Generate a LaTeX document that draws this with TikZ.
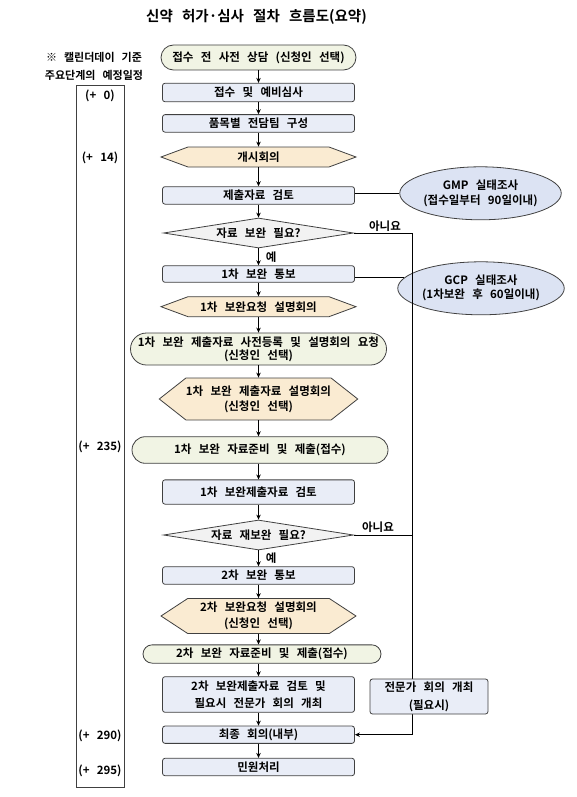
\documentclass[tikz,border=0pt]{standalone}
\usepackage{fontspec}
\setmainfont{Noto Sans CJK KR}[BoldFont={Noto Sans CJK KR Bold}, WordSpace=2.8]
\usepackage{tikz}
\usetikzlibrary{shapes.geometric,shapes.misc,shapes.symbols,arrows.meta,calc}

\definecolor{boxblue}{HTML}{E9EDF7}
\definecolor{pillgreen}{HTML}{F1F4E4}
\definecolor{hexsand}{HTML}{FAEBD2}
\definecolor{askgray}{HTML}{F2F2F2}
\definecolor{ovalblue}{HTML}{DCE3F3}
\definecolor{edgegray}{HTML}{404040}

\begin{document}
\begin{tikzpicture}[x=1pt, y=-1pt,
    every node/.style={font=\fontsize{11.5}{15}\selectfont\bfseries, inner sep=0pt, align=center},
    stepbox/.style={rectangle, rounded corners=2.5pt, draw=edgegray, line width=0.8pt, fill=boxblue, minimum width=192pt},
    pill/.style={rounded rectangle, draw=edgegray, line width=0.8pt, fill=pillgreen},
    meeting/.style={signal, signal to=east and west, draw=edgegray, line width=0.8pt, fill=hexsand, minimum width=195pt},
    ask/.style={diamond, aspect=6.3, draw=edgegray, line width=0.8pt, fill=askgray, minimum width=190pt, minimum height=30pt},
    audit/.style={ellipse, draw=edgegray, line width=0.8pt, fill=ovalblue, minimum width=128pt, minimum height=53pt},
    flow/.style={-{Stealth[length=5pt, width=4.5pt]}, line width=0.9pt},
    tie/.style={line width=0.8pt}
  ]
    \useasboundingbox (0,0) rectangle (576,797);
    % title and the note on the left
    \node[font=\fontsize{14.5}{16}\selectfont\bfseries] (title) at (256.5,16.5) {신약 허가·심사 절차 흐름도(요약)};
    \node[font=\fontsize{11}{18.7}\selectfont\bfseries] (note) at (94,66.3) {※ 캘린더데이 기준\\주요단계의 예정일정};
    % calendar-day column
    \node[draw=edgegray, line width=0.8pt, minimum width=48.3pt, minimum height=702pt] (days) at (100.2,436.7) {};
    \foreach \y/\d in {96/0, 158/14, 447/235, 736/290, 771/295} {
      \node (d\d) at (100,\y) {(+ \d)};
    }
    % main column
    \node[pill, minimum width=195pt, minimum height=25pt] (consult) at (258.5,57.5) {접수 전 사전 상담 (신청인 선택)};
    \node[stepbox, minimum height=18.5pt] (intake) at (258.5,92.5) {접수 및 예비심사};
    \node[stepbox, minimum height=17.5pt] (team) at (258.5,123.4) {품목별 전담팀 구성};
    \node[meeting, minimum height=20pt, signal pointer angle=40.6] (kickoff) at (258.5,157) {개시회의};
    \node[stepbox, minimum height=17.5pt] (review) at (258.5,195.4) {제출자료 검토};
    \node[ask] (need1) at (258.5,233) {자료 보완 필요?};
    \node[stepbox, minimum height=16.6pt] (notice1) at (258.5,274) {1차 보완 통보};
    \node[meeting, minimum height=20pt, signal pointer angle=40.6] (brief1) at (258.5,306.7) {1차 보완요청 설명회의};
    \node[pill, minimum width=256pt, minimum height=32pt] (prereg) at (258.5,349) {1차 보완 제출자료 사전등록 및 설명회의 요청\\[-2.3pt](신청인 선택)};
    \node[meeting, minimum height=42pt, signal pointer angle=76.4] (brief2) at (258.5,399) {1차 보완 제출자료 설명회의\\(신청인 선택)};
    \node[pill, minimum width=256pt, minimum height=26.6pt] (sub1) at (260,450) {1차 보완 자료준비 및 제출(접수)};
    \node[stepbox, minimum height=24.3pt] (rev1) at (258.5,492) {1차 보완제출자료 검토};
    \node[ask] (need2) at (258.5,535) {자료 재보완 필요?};
    \node[stepbox, minimum height=17.6pt] (notice2) at (258.5,575.5) {2차 보완 통보};
    \node[meeting, minimum height=35pt, signal pointer angle=66.5] (brief3) at (258.5,616) {2차 보완요청 설명회의\\[0.7pt](신청인 선택)};
    \node[pill, minimum width=238pt, minimum height=18.3pt] (sub2) at (262,654) {2차 보완 자료준비 및 제출(접수)};
    \node[stepbox, minimum height=35.6pt] (rev2) at (258.5,694.5) {2차 보완제출자료 검토 및\\[1.7pt]필요시 전문가 회의 개최};
    \node[stepbox, minimum height=17.3pt] (final) at (258.5,734.7) {최종 회의(내부)};
    \node[stepbox, minimum height=17.4pt] (civil) at (258.5,767) {민원처리};
    % inspections on the right
    \node[audit] (gmp) at (480.5,193.3) {GMP 실태조사\\[-0.6pt](접수일부터 90일이내)};
    \node[audit] (gcp) at (481,288.3) {GCP 실태조사\\[-1pt](1차보완 후 60일이내)};
    \draw[tie] (gmp.west -| review.east) -- (gmp.west);
    \draw[tie] (gcp.172 -| notice1.east) -- (gcp.172);
    % downward arrows
    \foreach \a/\b in {consult/intake, intake/team, team/kickoff, kickoff/review, review/need1,
                       notice1/brief1, brief1/prereg, prereg/brief2, brief2/sub1, sub1/rev1, rev1/need2,
                       notice2/brief3, brief3/sub2, sub2/rev2, rev2/final, final/civil} {
      \draw[flow] (\a.south -| need1) -- (\b.north -| need1);
    }
    \draw[flow] (need1) -- node[right=7pt] (yes1) {예} (notice1);
    \draw[flow] (need2) -- node[right=7pt] (yes2) {예} (notice2);
    % the "no" branch
    \coordinate (bus) at (412,0);
    \draw[flow] (need1.east) -- (need1.east -| bus) -- (bus |- final.east) -- (final.east);
    \draw[tie] (need2.east) -- (need2.east -| bus);
    \node (no1) at (385,226) {아니요};
    \node (no2) at (378,527) {아니요};
    \node[stepbox, minimum width=118pt, minimum height=35pt] (expert) at (429,696.5) {전문가 회의 개최\\[2.7pt](필요시)};
\end{tikzpicture}
\end{document}
